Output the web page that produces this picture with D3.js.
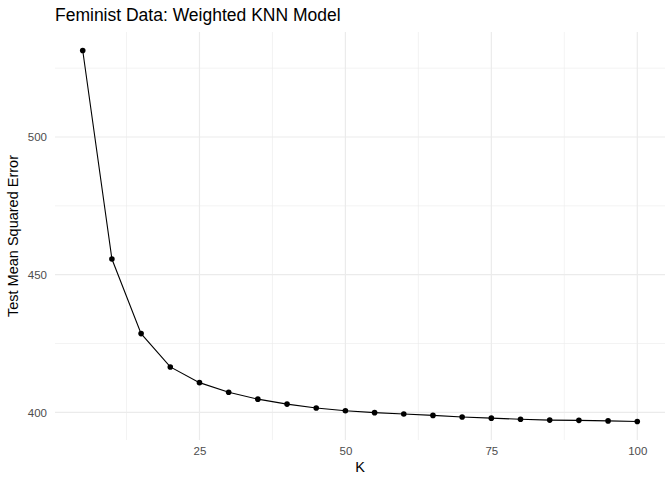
<!DOCTYPE html>
<html>
<head>
<meta charset="utf-8">
<script src="https://cdn.jsdelivr.net/npm/d3@7"></script>
<style>
  body { margin: 0; background: #fff; }
  text { font-family: "Liberation Sans", Arial, Helvetica, sans-serif; }
</style>
</head>
<body>
<svg id="chart"></svg>
<script>
// K values and test MSE
const kValues = [5, 10, 15, 20, 25, 30, 35, 40, 45, 50, 55, 60, 65, 70, 75, 80, 85, 90, 95, 100];
const mseValues = [531.4, 455.7, 428.6, 416.5, 410.8, 407.3, 404.8, 403.0, 401.6, 400.6,
                   399.9, 399.4, 398.9, 398.3, 397.9, 397.5, 397.2, 397.1, 396.9, 396.7];
const xTicks = [25, 50, 75, 100];
const xMinor = [12.5, 37.5, 62.5, 87.5];
const yTicks = [400, 450, 500];
const yMinor = [425, 475, 525];

const data = kValues.map((k, i) => ({k: k, mse: mseValues[i]}));

const W = 672, H = 480;
const margin = {top: 32, right: 7, bottom: 40, left: 55};
const width = W - margin.left - margin.right,
      height = H - margin.top - margin.bottom;

const svg = d3.select("#chart")
    .attr("width", W)
    .attr("height", H);

const g = svg.append("g")
    .attr("transform", `translate(${margin.left},${margin.top})`);

// ggplot style 5% expansion on both axes
const xExt = d3.extent(kValues), xPad = (xExt[1] - xExt[0]) * 0.05;
const yExt = d3.extent(mseValues), yPad = (yExt[1] - yExt[0]) * 0.05;

const x = d3.scaleLinear()
    .domain([xExt[0] - xPad, xExt[1] + xPad])
    .range([0, width]);

const y = d3.scaleLinear()
    .domain([yExt[0] - yPad, yExt[1] + yPad])
    .range([height, 0]);

// minor grid
g.append("g").selectAll("line").data(yMinor).join("line")
    .attr("x1", 0).attr("x2", width)
    .attr("y1", d => y(d)).attr("y2", d => y(d))
    .attr("stroke", "#ebebeb").attr("stroke-width", 0.6);
g.append("g").selectAll("line").data(xMinor).join("line")
    .attr("y1", 0).attr("y2", height)
    .attr("x1", d => x(d)).attr("x2", d => x(d))
    .attr("stroke", "#ebebeb").attr("stroke-width", 0.6);

// major grid
g.append("g").selectAll("line").data(yTicks).join("line")
    .attr("x1", 0).attr("x2", width)
    .attr("y1", d => y(d)).attr("y2", d => y(d))
    .attr("stroke", "#ebebeb").attr("stroke-width", 1.2);
g.append("g").selectAll("line").data(xTicks).join("line")
    .attr("y1", 0).attr("y2", height)
    .attr("x1", d => x(d)).attr("x2", d => x(d))
    .attr("stroke", "#ebebeb").attr("stroke-width", 1.2);

// axes (labels only, like theme_minimal)
const xAxis = g.append("g")
    .attr("transform", `translate(0,${height})`)
    .call(d3.axisBottom(x).tickValues(xTicks).tickSize(0).tickPadding(7));
const yAxis = g.append("g")
    .call(d3.axisLeft(y).tickValues(yTicks).tickSize(0).tickPadding(8));
[xAxis, yAxis].forEach(a => {
    a.select(".domain").remove();
    a.selectAll("text")
        .attr("fill", "#4d4d4d")
        .style("font-size", "11.5px")
        .style("font-family", "'Liberation Sans', Arial, sans-serif");
});

// line + points
g.append("path")
    .datum(data)
    .attr("fill", "none")
    .attr("stroke", "black")
    .attr("stroke-width", 1.1)
    .attr("d", d3.line().x(d => x(d.k)).y(d => y(d.mse)));

g.append("g").selectAll("circle").data(data).join("circle")
    .attr("cx", d => x(d.k))
    .attr("cy", d => y(d.mse))
    .attr("r", 2.8)
    .attr("fill", "black");

// titles
svg.append("text")
    .attr("x", margin.left)
    .attr("y", 21)
    .attr("font-size", "17.5px")
    .attr("fill", "black")
    .text("Feminist Data: Weighted KNN Model");

svg.append("text")
    .attr("x", margin.left + width / 2)
    .attr("y", 472)
    .attr("text-anchor", "middle")
    .attr("font-size", "14.5px")
    .attr("fill", "black")
    .text("K");

svg.append("text")
    .attr("transform", `translate(18,${margin.top + height / 2}) rotate(-90)`)
    .attr("text-anchor", "middle")
    .attr("font-size", "14.5px")
    .attr("fill", "black")
    .text("Test Mean Squared Error");
</script>
</body>
</html>
